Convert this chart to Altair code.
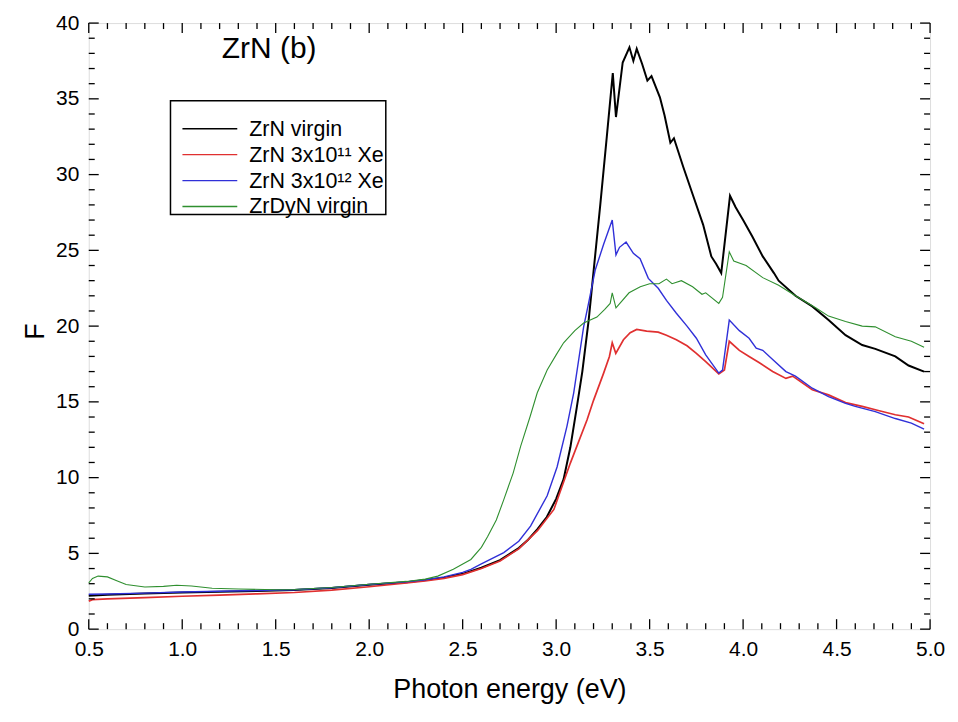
import altair as alt
import pandas as pd

FONT = "Liberation Sans, Arial, sans-serif"

series_names = ["ZrN virgin", "ZrN 3x10¹¹ Xe", "ZrN 3x10¹² Xe", "ZrDyN virgin"]
series_colors = ["#000000", "#e03030", "#3030d8", "#2f8f2f"]
series_widths = [2.0, 1.1, 1.1, 1.1]

# ZrN virgin
x_black = [0.5, 0.6, 0.8, 1.0, 1.2, 1.4, 1.6, 1.8, 2.0, 2.2, 2.3, 2.4, 2.5, 2.6, 2.7, 2.8, 2.85,
           2.9, 2.95, 3.0, 3.04, 3.076, 3.11, 3.14, 3.174, 3.2, 3.236, 3.271, 3.303, 3.32, 3.356,
           3.392, 3.413, 3.431, 3.46, 3.488, 3.51, 3.555, 3.58, 3.611, 3.63, 3.68, 3.73, 3.786,
           3.83, 3.856, 3.883, 3.93, 3.96, 4.0, 4.05, 4.105, 4.165, 4.19, 4.28, 4.37, 4.457,
           4.548, 4.637, 4.707, 4.814, 4.885, 4.968]
y_black = [2.2, 2.27, 2.35, 2.42, 2.47, 2.52, 2.58, 2.72, 2.93, 3.1, 3.25, 3.4, 3.65, 4.05, 4.55,
           5.35, 5.9, 6.6, 7.4, 8.6, 9.9, 12.0, 14.6, 17.0, 20.4, 23.6, 28.0, 32.5, 36.7, 33.8,
           37.4, 38.4, 37.5, 38.3, 37.3, 36.2, 36.5, 35.1, 33.9, 32.1, 32.4, 30.5, 28.7, 26.7,
           24.6, 24.1, 23.5, 28.6, 27.85, 27.0, 25.9, 24.6, 23.5, 23.0, 22.0, 21.3, 20.4, 19.4,
           18.75, 18.5, 18.0, 17.4, 17.0]

# ZrN 3x10^11 Xe
x_red = [0.5, 0.52, 0.6, 0.8, 1.0, 1.2, 1.4, 1.6, 1.8, 2.0, 2.2, 2.3, 2.4, 2.5, 2.6, 2.7, 2.8,
         2.9, 2.988, 3.076, 3.165, 3.2, 3.254, 3.285, 3.30, 3.319, 3.36, 3.396, 3.431, 3.484,
         3.546, 3.59, 3.643, 3.7, 3.75, 3.80, 3.87, 3.90, 3.926, 3.98, 4.032, 4.085, 4.158,
         4.229, 4.265, 4.37, 4.457, 4.548, 4.637, 4.723, 4.814, 4.885, 4.968]
y_red = [1.85, 1.95, 2.0, 2.08, 2.17, 2.25, 2.33, 2.42, 2.58, 2.8, 3.05, 3.18, 3.35, 3.6, 4.0,
         4.5, 5.3, 6.5, 7.9, 10.96, 13.8, 15.1, 16.9, 18.0, 18.9, 18.2, 19.1, 19.56, 19.78,
         19.67, 19.6, 19.4, 19.1, 18.7, 18.2, 17.65, 16.85, 17.1, 19.0, 18.4, 18.0, 17.6, 17.0,
         16.55, 16.7, 15.8, 15.46, 14.95, 14.7, 14.43, 14.15, 14.0, 13.55]

# ZrN 3x10^12 Xe
x_blue = [0.5, 0.6, 0.8, 1.0, 1.2, 1.4, 1.6, 1.8, 2.0, 2.2, 2.3, 2.4, 2.5, 2.544, 2.6, 2.72,
          2.8, 2.863, 2.952, 3.005, 3.058, 3.094, 3.147, 3.17, 3.209, 3.254, 3.30, 3.32, 3.339,
          3.374, 3.413, 3.449, 3.493, 3.546, 3.59, 3.643, 3.7, 3.75, 3.80, 3.87, 3.89, 3.926,
          3.98, 4.032, 4.07, 4.105, 4.158, 4.229, 4.28, 4.37, 4.457, 4.548, 4.60, 4.707, 4.814,
          4.90, 4.968]
y_blue = [2.3, 2.32, 2.38, 2.45, 2.5, 2.55, 2.6, 2.73, 2.95, 3.12, 3.25, 3.45, 3.75, 3.95, 4.3,
          5.05, 5.8, 6.8, 8.8, 10.7, 13.4, 15.6, 19.95, 21.3, 23.7, 25.4, 27.0, 24.7, 25.2,
          25.55, 24.8, 24.45, 23.15, 22.5, 21.7, 20.85, 20.0, 19.2, 18.1, 16.9, 17.1, 20.4,
          19.7, 19.2, 18.55, 18.4, 17.8, 17.0, 16.7, 15.9, 15.35, 14.9, 14.7, 14.36, 13.9,
          13.6, 13.2]

# ZrDyN virgin
x_green = [0.5, 0.52, 0.55, 0.6, 0.65, 0.7, 0.8, 0.9, 0.97, 1.05, 1.16, 1.3, 1.5, 1.6, 1.8,
           2.0, 2.2, 2.3, 2.367, 2.45, 2.544, 2.6, 2.633, 2.68, 2.72, 2.77, 2.81, 2.86, 2.899,
           2.952, 3.0, 3.04, 3.1, 3.147, 3.218, 3.26, 3.289, 3.30, 3.32, 3.39, 3.45, 3.5, 3.55,
           3.59, 3.62, 3.67, 3.73, 3.78, 3.80, 3.87, 3.89, 3.926, 3.95, 4.016, 4.105, 4.19,
           4.28, 4.39, 4.457, 4.548, 4.637, 4.707, 4.814, 4.90, 4.968]
y_green = [3.05, 3.35, 3.5, 3.45, 3.2, 2.95, 2.78, 2.82, 2.9, 2.85, 2.7, 2.65, 2.6, 2.62, 2.75,
           2.96, 3.15, 3.3, 3.5, 3.95, 4.6, 5.4, 6.1, 7.2, 8.55, 10.3, 12.06, 14.0, 15.6, 17.1,
           18.1, 18.9, 19.7, 20.2, 20.6, 21.1, 21.5, 22.2, 21.2, 22.2, 22.6, 22.8, 22.8, 23.1,
           22.8, 23.0, 22.6, 22.1, 22.2, 21.5, 21.9, 24.9, 24.3, 24.0, 23.2, 22.7, 22.0, 21.2,
           20.66, 20.3, 20.0, 19.95, 19.3, 19.0, 18.6]

x_tick_labels = [0.5, 1.0, 1.5, 2.0, 2.5, 3.0, 3.5, 4.0, 4.5, 5.0]
y_tick_labels = [0, 5, 10, 15, 20, 25, 30, 35, 40]
x_minor = [round(0.5 + 0.1 * i, 2) for i in range(46)]
y_minor = list(range(0, 41))

W, H = 844, 608

rows = []
for name, xs, ys in zip(series_names, [x_black, x_red, x_blue, x_green],
                        [y_black, y_red, y_blue, y_green]):
    for a, b in zip(xs, ys):
        rows.append({"E": a, "F": b, "S": name})
df = pd.DataFrame(rows)

xscale = alt.Scale(domain=[0.5, 5.0], nice=False, zero=False)
yscale = alt.Scale(domain=[0, 40], nice=False, zero=False)

xaxis = alt.Axis(values=x_tick_labels, format=".1f", ticks=False, domain=False,
                 grid=False, labelFontSize=21, labelPadding=9, labelFlush=False,
                 title="Photon energy (eV)", titleFontSize=27,
                 titleFontWeight="normal", titleY=69, titleBaseline="alphabetic")
yaxis = alt.Axis(values=y_tick_labels, format="d", ticks=False, domain=False,
                 grid=False, labelFontSize=21, labelPadding=10, labelFlush=False,
                 title="F", titleFontSize=27, titleFontWeight="normal",
                 titleAngle=270, titleX=-45, titleY=H / 2 + 5,
                 titleBaseline="alphabetic", titleAlign="center")

lines = alt.Chart(df).mark_line().encode(
    x=alt.X("E:Q", scale=xscale, axis=xaxis, title="Photon energy (eV)"),
    y=alt.Y("F:Q", scale=yscale, axis=yaxis, title="F"),
    color=alt.Color("S:N", scale=alt.Scale(domain=series_names, range=series_colors), legend=None),
    strokeWidth=alt.StrokeWidth("S:N", scale=alt.Scale(domain=series_names, range=series_widths),
                                legend=None),
)

x_minor_df = pd.DataFrame({"v": [v for v in x_minor if v not in x_tick_labels]})
x_major_df = pd.DataFrame({"v": x_tick_labels})
y_minor_df = pd.DataFrame({"v": [v for v in y_minor if v not in y_tick_labels]})
y_major_df = pd.DataFrame({"v": y_tick_labels})


def xticks(d, length):
    base = alt.Chart(d).mark_rule(color="black", strokeWidth=1.3)
    enc_x = alt.X("v:Q", scale=xscale, axis=xaxis, title="Photon energy (eV)")
    bottom = base.encode(x=enc_x, y=alt.value(H), y2=alt.value(H - length))
    top = base.encode(x=enc_x, y=alt.value(0), y2=alt.value(length))
    return [bottom, top]


def yticks(d, length):
    base = alt.Chart(d).mark_rule(color="black", strokeWidth=1.3)
    enc_y = alt.Y("v:Q", scale=yscale, axis=yaxis, title="F")
    left = base.encode(y=enc_y, x=alt.value(0), x2=alt.value(length))
    right = base.encode(y=enc_y, x=alt.value(W), x2=alt.value(W - length))
    return [left, right]


tick_layers = (xticks(x_minor_df, 6) + xticks(x_major_df, 10)
               + yticks(y_minor_df, 6) + yticks(y_major_df, 10))

# legend (drawn manually, one row per series)
empty = alt.Data(values=[{}])
leg_layers = [alt.Chart(empty).mark_rect(fill="white", stroke="black", strokeWidth=1.5).encode(
    x=alt.value(82), x2=alt.value(298), y=alt.value(78), y2=alt.value(192))]
for i, (name, col) in enumerate(zip(series_names, series_colors)):
    ly = 106 + 26 * i
    leg_layers.append(alt.Chart(empty).mark_rule(color=col, strokeWidth=1.3).encode(
        x=alt.value(94), x2=alt.value(149), y=alt.value(ly)))
    leg_layers.append(alt.Chart(empty).mark_text(
        text=name, align="left", baseline="middle", fontSize=21.5, font=FONT,
        color="black").encode(x=alt.value(161), y=alt.value(ly + 1)))

title_text = alt.Chart(empty).mark_text(
    text="ZrN (b)", fontSize=30, font=FONT, color="black", align="center",
    baseline="alphabetic").encode(x=alt.value(181), y=alt.value(35))

chart = alt.layer(lines, *tick_layers, *leg_layers, title_text).properties(
    width=W, height=H,
    autosize=alt.AutoSizeParams(type="none"),
    padding={"left": 81, "top": 14, "right": 20, "bottom": 85},
).configure_view(stroke="black", strokeWidth=1.5).configure_axis(
    labelFont=FONT, titleFont=FONT, labelColor="black", titleColor="black"
).configure(background="white")

chart.save("out.html", embed_options={"renderer": "svg", "actions": False})
